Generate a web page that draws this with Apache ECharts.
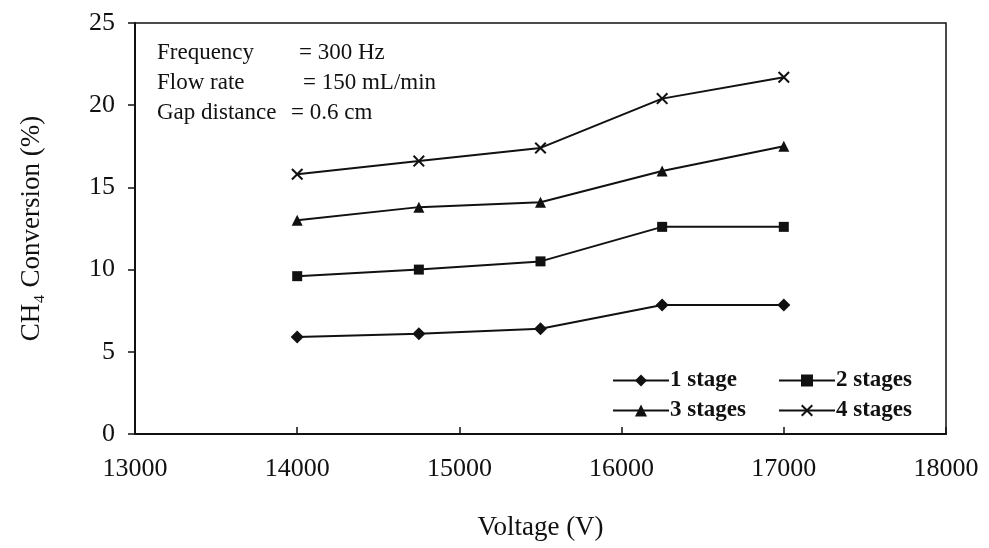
<!DOCTYPE html>
<html>
<head>
<meta charset="utf-8">
<script src="https://cdn.jsdelivr.net/npm/echarts@6/dist/echarts.min.js"></script>
<style>html,body{margin:0;padding:0;background:#fff}#c{width:989px;height:548px}</style>
</head>
<body>
<div id="c"></div>
<script>
var voltage = [14000, 14750, 15500, 16250, 17000];
var stage1 = [5.9, 6.1, 6.4, 7.85, 7.85];
var stage2 = [9.6, 10.0, 10.5, 12.6, 12.6];
var stage3 = [13.0, 13.8, 14.1, 16.0, 17.5];
var stage4 = [15.8, 16.6, 17.4, 20.4, 21.7];
var seriesNames = ['1 stage', '2 stages', '3 stages', '4 stages'];
var annotationLines = ['Frequency', 'Flow rate', 'Gap distance'];
var annotationValues = ['= 300 Hz', '= 150 mL/min', '= 0.6 cm'];

var FONT = '"Liberation Serif", "DejaVu Serif", serif';
var XPATH = 'path://M0,1.2 L1.2,0 L5,3.8 L8.8,0 L10,1.2 L6.2,5 L10,8.8 L8.8,10 L5,6.2 L1.2,10 L0,8.8 L3.8,5 Z';

function pairs(ys){ return voltage.map(function(v,i){ return [v, ys[i]]; }); }

function mk(name, data, symbol, size){
  return {
    name: name, type: 'line', data: pairs(data),
    symbol: symbol, symbolSize: size,
    lineStyle: {color: '#111', width: 2},
    itemStyle: {color: '#111'},
    emphasis: {disabled: true},
    animation: false
  };
}

var valueX = [299, 303, 291];
var graphics = [];
annotationLines.forEach(function(t, i){
  graphics.push({type:'text', left:157, top:41 + i*30, style:{text:t, font:'23px ' + FONT, fill:'#111'}});
  graphics.push({type:'text', left:valueX[i], top:41 + i*30, style:{text:annotationValues[i], font:'23px ' + FONT, fill:'#111'}});
});

function lg(name, left, top){
  return {
    data: [name], left: left, top: top, orient: 'horizontal',
    itemWidth: 56, itemHeight: 15, itemGap: 0,
    textStyle: {fontFamily: FONT, fontSize: 23, fontWeight: 'bold', color: '#111', padding: [0, 0, 0, -4]}
  };
}

var chart = echarts.init(document.getElementById('c'), null, {renderer: 'canvas'});
chart.setOption({
  backgroundColor: '#fff',
  animation: false,
  grid: {left: 135, right: 43, top: 23, bottom: 114, show: true, borderColor: '#111', borderWidth: 1.5, backgroundColor: 'transparent'},
  xAxis: {
    type: 'value', min: 13000, max: 18000, interval: 1000,
    name: 'Voltage (V)', nameLocation: 'middle', nameGap: 80,
    nameTextStyle: {fontFamily: FONT, fontSize: 27, color: '#111'},
    axisLine: {show: true, lineStyle: {color: '#111', width: 2}},
    axisTick: {show: true, inside: true, length: 7, lineStyle: {color: '#111', width: 1.5}},
    axisLabel: {fontFamily: FONT, fontSize: 26, color: '#111', margin: 22, formatter: function(v){ return String(v); }},
    splitLine: {show: false}
  },
  yAxis: {
    type: 'value', min: 0, max: 25, interval: 5,
    name: 'CH\u2084 Conversion (%)', nameLocation: 'middle', nameGap: 90,
    nameTextStyle: {fontFamily: FONT, fontSize: 27, color: '#111'},
    axisLine: {show: true, lineStyle: {color: '#111', width: 2}},
    axisTick: {show: true, inside: false, length: 7, lineStyle: {color: '#111', width: 1.5}},
    axisLabel: {fontFamily: FONT, fontSize: 26, color: '#111', margin: 20},
    splitLine: {show: false}
  },
  legend: [
    lg(seriesNames[0], 607, 364),
    lg(seriesNames[1], 773, 364),
    lg(seriesNames[2], 607, 394),
    lg(seriesNames[3], 773, 394)
  ],
  graphic: graphics,
  series: [
    mk(seriesNames[0], stage1, 'diamond', 13),
    mk(seriesNames[1], stage2, 'rect', 10),
    mk(seriesNames[2], stage3, 'triangle', 11),
    mk(seriesNames[3], stage4, XPATH, 12)
  ]
});
</script>
</body>
</html>
